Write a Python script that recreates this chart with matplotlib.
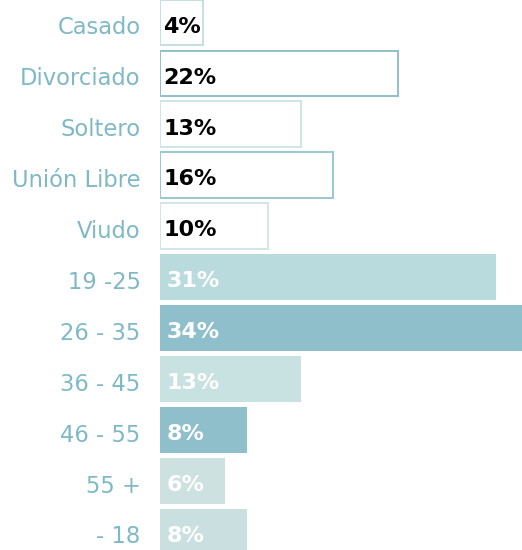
import matplotlib
matplotlib.use("Agg")
import matplotlib.pyplot as plt
import matplotlib.transforms as mtransforms
import numpy as np

plt.rcParams['font.family'] = ['DejaVu Sans']

# estado civil (barras con contorno)
civil = ['Casado', 'Divorciado', 'Soltero', 'Unión Libre', 'Viudo']
civil_pct = [4, 22, 13, 16, 10]
civil_edge = ['#c4dfe2', '#8fbfcb', '#cfe5e5', '#99c7d0', '#d3e5e5']

# rangos de edad (barras rellenas)
edades = ['19 -25', '26 - 35', '36 - 45', '46 - 55', '55 +', '- 18']
edad_pct = [31, 34, 13, 8, 6, 8]
edad_color = ['#b9dbdd', '#8ebfca', '#c8e1e1', '#8ebfca', '#cde1e0', '#cae0e0']

label_color = '#7fb9c6'

fig = plt.figure(figsize=(5.22, 5.5), dpi=100)
ax = fig.add_axes([160 / 522, 0, 362 / 522, 1])

n1 = len(civil)
y1 = np.arange(n1)
y2 = np.arange(len(edades)) + n1
h = 0.9

ax.barh(y1, civil_pct, height=h, color='white', edgecolor=civil_edge, linewidth=1.4)
ax.barh(y2, edad_pct, height=h, color=edad_color, linewidth=0)

for y, v in zip(y1, civil_pct):
    ax.annotate(f'{v}%', (0, y), xytext=(2.5, -3), textcoords='offset points',
                va='center', ha='left', fontsize=16, fontweight='bold', color='black')
for y, v in zip(y2, edad_pct):
    ax.annotate(f'{v}%', (0, y), xytext=(4.5, -3), textcoords='offset points',
                va='center', ha='left', fontsize=16, fontweight='bold', color='white')

ax.set_yticks(np.concatenate([y1, y2]))
ax.set_yticklabels(civil + edades, fontsize=16.3, color=label_color)
ax.tick_params(axis='y', length=0, pad=14)
# bajar un poco las etiquetas
shift = mtransforms.ScaledTranslation(0, -2 / 72, fig.dpi_scale_trans)
for lbl in ax.get_yticklabels():
    lbl.set_transform(lbl.get_transform() + shift)
ax.set_xticks([])

ax.set_xlim(0, 33.4)
ax.set_ylim(10.36, -0.442)
for s in ax.spines.values():
    s.set_visible(False)

fig.savefig('out.png', dpi=100)
